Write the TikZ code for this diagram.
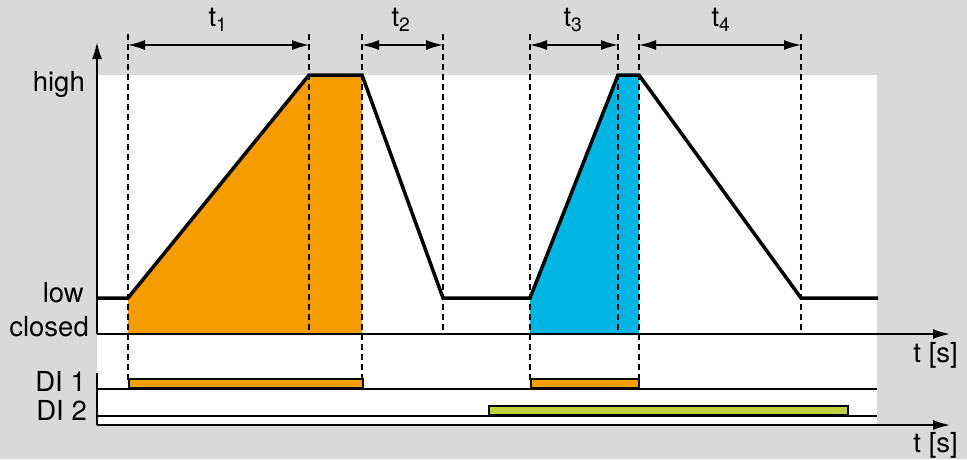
\documentclass[tikz,border=0pt]{standalone}
\usepackage{fontspec}
\setmainfont{TeX Gyre Heros}
\usetikzlibrary{arrows.meta}
\definecolor{bg}{HTML}{D9D9D9}
\definecolor{orng}{HTML}{F59C00}
\definecolor{cyanb}{HTML}{00B5E2}
\definecolor{lime}{HTML}{BFD141}
\begin{document}
\begin{tikzpicture}[x=1pt,y=-1pt,
  lbl/.style={inner sep=0pt,font=\fontsize{27.5}{32}\selectfont},
  guide/.style={line width=1.3pt,dash pattern=on 6pt off 4pt},
  dim/.style={line width=1.5pt,{Latex[length=17pt,width=10pt]}-{Latex[length=17pt,width=10pt]}},
  axis/.style={line width=2pt,-{Latex[length=17pt,width=10pt]}},
  curve/.style={line width=3.5pt,line join=miter},
  base/.style={line width=1.2pt},
  bar/.style={draw=black,line width=1.8pt}]
\fill[bg] (0,0) rectangle (967,459);
\useasboundingbox (0,0) rectangle (967,459);
\fill[white] (97,75) rectangle (877,425);
% key points
\coordinate (o) at (97,334);
\coordinate (ytop) at (97,42);
\coordinate (xend) at (950,334);
\coordinate (o2) at (97,425);
\coordinate (x2end) at (950,425);
\coordinate (c0) at (97,298);
\coordinate (c1) at (128,298);
\coordinate (c2) at (309,75);
\coordinate (c3) at (362,75);
\coordinate (c4) at (443,298);
\coordinate (c5) at (530,298);
\coordinate (c6) at (618,75);
\coordinate (c7) at (639,75);
\coordinate (c8) at (801,298);
\coordinate (c9) at (878,298);
% fills
\fill[orng] (128,334) -- (c1) -- (c2) -- (c3) -- (362,334) -- cycle;
\fill[cyanb] (530,334) -- (c5) -- (c6) -- (c7) -- (639,334) -- cycle;
% DI baselines
\draw[base] (97,389) -- (877,389);
\draw[base] (97,416) -- (877,416);
% DI bars
\node[bar,fill=orng,inner sep=0pt,minimum width=234pt,minimum height=9pt,anchor=south west] (b1) at (128,389) {};
\node[bar,fill=orng,inner sep=0pt,minimum width=108pt,minimum height=9pt,anchor=south west] (b2) at (530,389) {};
\node[bar,fill=lime,inner sep=0pt,minimum width=359pt,minimum height=9pt,anchor=south west] (b3) at (488,416) {};
% guide lines
\foreach \x/\yb in {128/380,309/334,362/380,443/334,530/380,618/334,639/380,801/334}
  \draw[guide] (\x,34) -- (\x,\yb);
% dimension arrows
\coordinate (d1a) at (128,45); \coordinate (d1b) at (309,45);
\coordinate (d2a) at (362,45); \coordinate (d2b) at (443,45);
\coordinate (d3a) at (530,45); \coordinate (d3b) at (618,45);
\coordinate (d4a) at (639,45); \coordinate (d4b) at (801,45);
\draw[dim] (d1a) -- (d1b);
\draw[dim] (d2a) -- (d2b);
\draw[dim] (d3a) -- (d3b);
\draw[dim] (d4a) -- (d4b);
\node[lbl,anchor=base] (t1) at (218,26) {t\textsubscript{1}};
\node[lbl,anchor=base] (t2) at (401,26) {t\textsubscript{2}};
\node[lbl,anchor=base] (t3) at (573,26) {t\textsubscript{3}};
\node[lbl,anchor=base] (t4) at (721,26) {t\textsubscript{4}};
% curve
\draw[curve] (c0) -- (c1) -- (c2) -- (c3) -- (c4) -- (c5) -- (c6) -- (c7) -- (c8) -- (c9);
% axes
\draw[axis] (o) -- (ytop);
\draw[axis] (o) -- (xend);
\draw[axis] (o2) -- (x2end);
\draw[line width=2pt] (97,373) -- (o2);
% labels
\node[lbl,anchor=base east] (lhigh) at (85,91) {high};
\node[lbl,anchor=base east] (llow) at (84,302) {low};
\node[lbl,anchor=base east] (lclosed) at (89,336) {closed};
\node[lbl,anchor=base east] (ldi1) at (86,391) {DI 1};
\node[lbl,anchor=base east] (ldi2) at (87,420) {DI 2};
\node[lbl,anchor=base east] (ts1) at (958,362) {t [s]};
\node[lbl,anchor=base east] (ts2) at (958,452) {t [s]};
\end{tikzpicture}
\end{document}
